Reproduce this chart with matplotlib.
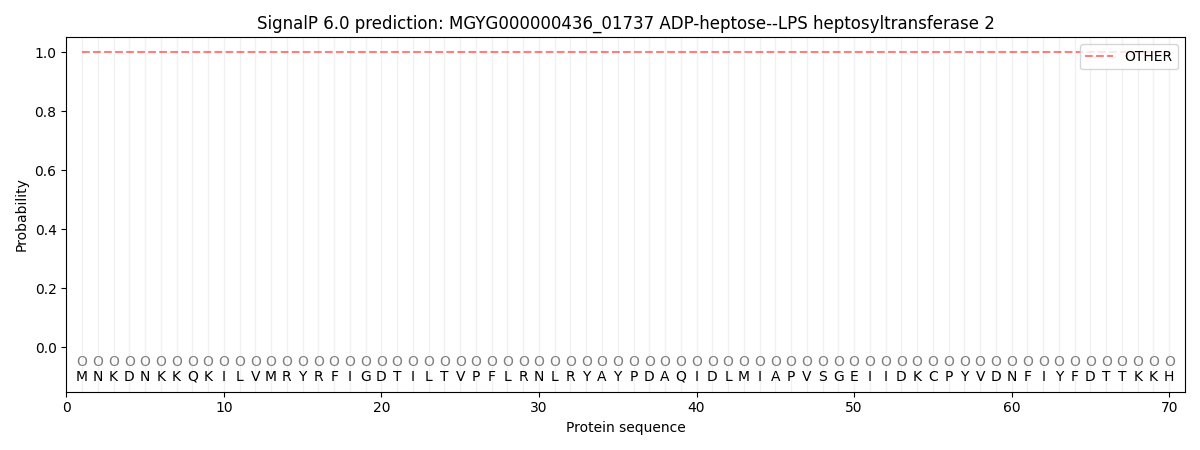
import numpy as np
import matplotlib
matplotlib.use("Agg")
import matplotlib.pyplot as plt

sequence = list("MNKDNKKQKILVMRYRFIGDTILTVPFLRNLRYAYPDAQIDLMIAPVSGEIIDKCPYVDNFIYFDTTKKH")
region_labels = ["O"] * len(sequence)
other_prob = [1.0] * len(sequence)

positions = np.arange(1, len(sequence) + 1)

fig, ax = plt.subplots(figsize=(12, 4.5))

# light vertical guides at every residue
for p in positions:
    ax.axvline(p, color="#e8e8e8", linewidth=1, alpha=0.6, zorder=0)

ax.plot(positions, other_prob, linestyle="--", color="red", alpha=0.5, label="OTHER")

for p, aa, lab in zip(positions, sequence, region_labels):
    ax.text(p, -0.05, lab, ha="center", va="center", fontsize=10, color="grey")
    ax.text(p, -0.1, aa, ha="center", va="center", fontsize=10, color="black")

ax.set_xlim(0, len(sequence) + 1)
ax.set_ylim(-0.15, 1.05)
ax.set_xlabel("Protein sequence")
ax.set_ylabel("Probability")
ax.set_title("SignalP 6.0 prediction: MGYG000000436_01737 ADP-heptose--LPS heptosyltransferase 2")
ax.legend(loc="upper right")

plt.tight_layout()
plt.savefig("out.png", dpi=100)
